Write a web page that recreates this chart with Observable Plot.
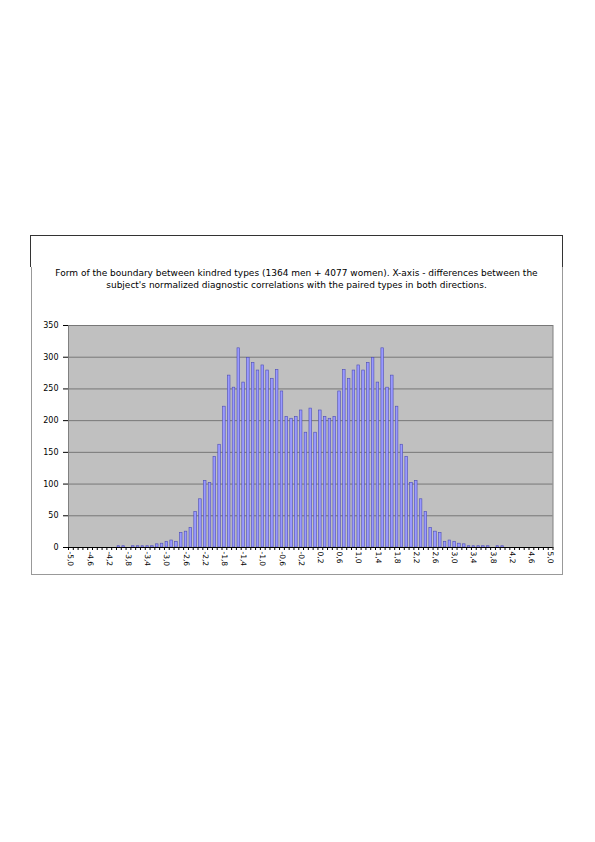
<!DOCTYPE html>
<html>
<head>
<meta charset="utf-8">
<script src="https://cdn.jsdelivr.net/npm/d3@7"></script>
<script src="https://cdn.jsdelivr.net/npm/@observablehq/plot@0.6"></script>
<style>
  html, body { margin: 0; padding: 0; background: #fff; }
  body { width: 595px; height: 842px; position: relative; font-family: "DejaVu Sans", sans-serif; }
  #topbox { position: absolute; left: 30px; top: 235px; width: 531px; height: 31px;
    border-top: 1px solid #333; border-left: 1px solid #333; border-right: 1px solid #333; box-sizing: content-box; }
  #lowbox { position: absolute; left: 31px; top: 267px; width: 530px; height: 307px;
    border-left: 1px solid #999; border-right: 1px solid #999; border-bottom: 1px solid #999; }
  #title { position: absolute; left: 31px; top: 267px; width: 531px; text-align: center;
    font-size: 9px; line-height: 12px; color: #000; }
  #chart { position: absolute; left: 0; top: 300px; }
</style>
</head>
<body>
<div id="topbox"></div>
<div id="lowbox"></div>
<div id="title">Form of the boundary between kindred types (1364 men + 4077 women). X-axis - differences between the<br>subject's normalized diagnostic correlations with the paired types in both directions.</div>
<div id="chart"></div>
<script>
// categories: -5.0 ... 5.0 step 0.1
const categories = d3.range(-50, 51).map(i => i / 10);
// counts
const counts = [
  0, 0, 0, 0, 0, 0, 0, 0, 0, 0,
  2, 2, 0, 2, 2, 2, 2, 2, 5, 6,
  9, 11, 9, 23, 25, 31, 56, 76, 105, 102,
  143, 162, 222, 271, 252, 314, 260, 299, 291, 279,
  287, 279, 266, 280, 246, 206, 203, 206, 216, 181,
  219,
  181, 216, 206, 203, 206, 246, 280, 266, 279, 287,
  279, 291, 299, 260, 314, 252, 271, 222, 162, 143,
  102, 105, 76, 56, 31, 25, 23, 9, 11, 9,
  6, 5, 2, 2, 2, 2, 2, 0, 2, 2,
  0, 0, 0, 0, 0, 0, 0, 0, 0, 0
];
const tickLabels = ["-5,0","-4,6","-4,2","-3,8","-3,4","-3,0","-2,6","-2,2","-1,8","-1,4","-1,0","-0,6","-0,2",
  "0,2","0,6","1,0","1,4","1,8","2,2","2,6","3,0","3,4","3,8","4,2","4,6","5,0"];
const yTicks = [0, 50, 100, 150, 200, 250, 300, 350];

const data = categories.map((x, i) => ({x, n: counts[i]}));
const labelValues = tickLabels.map(s => +s.replace(",", "."));
const boundaries = d3.range(-505, 506, 10).map(v => v / 100);

const chart = Plot.plot({
  width: 595,
  height: 275,
  marginTop: 25,
  marginBottom: 28,
  marginLeft: 68,
  marginRight: 42.5,
  style: {fontFamily: "DejaVu Sans, sans-serif", background: "transparent", color: "#000"},
  x: {type: "linear", domain: [-5.05, 5.05], axis: null, label: null},
  y: {domain: [0, 350], axis: null, label: null},
  marks: [
    Plot.frame({fill: "#C0C0C0", stroke: "#808080"}),
    Plot.gridY(yTicks, {stroke: "#777", strokeOpacity: 1}),
    Plot.rectY(data, {x1: d => d.x - 0.05, x2: d => d.x + 0.05, y: "n",
      insetLeft: 1.1, insetRight: 1.1, fill: "#9999FF", stroke: "#4d4db3", strokeWidth: 0.6}),
    Plot.ruleY([0], {stroke: "#000"}),
    Plot.axisX({ticks: boundaries, tickFormat: () => "", tickSize: 3, stroke: "#000", label: null}),
    Plot.axisX({ticks: labelValues, tickSize: 0, tickPadding: 4, tickRotate: 90, fontSize: 7.5, label: null,
      tickFormat: d => tickLabels[labelValues.indexOf(d)]}),
    Plot.axisY({ticks: yTicks, tickSize: 5, tickPadding: 5, fontSize: 8, label: null})
  ]
});
document.getElementById("chart").appendChild(chart);
</script>
</body>
</html>
